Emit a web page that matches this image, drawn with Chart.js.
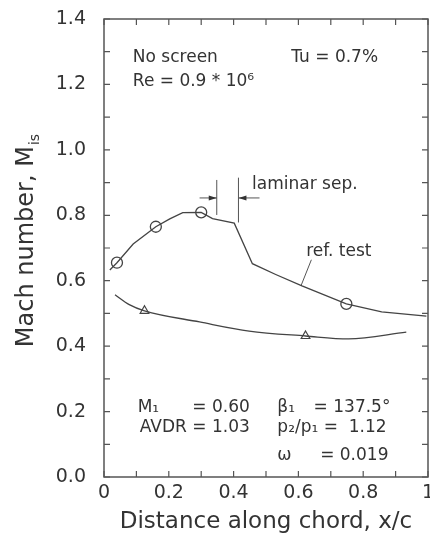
<!DOCTYPE html>
<html>
<head>
<meta charset="utf-8">
<script src="https://cdn.jsdelivr.net/npm/chart.js@4.4.1/dist/chart.umd.min.js"></script>
<style>
  html, body { margin: 0; padding: 0; background: #fff; }
  #wrap { width: 430px; height: 537px; }
</style>
</head>
<body>
<div id="wrap"><canvas id="mach-chart"></canvas></div>
<script>
// ref. test curve (suction + pressure side)
const refX = [0.018, 0.04, 0.09, 0.16, 0.203, 0.243, 0.30, 0.335, 0.402, 0.458, 0.53, 0.611, 0.748, 0.857, 0.995];
const refY = [0.633, 0.655, 0.712, 0.765, 0.789, 0.808, 0.809, 0.79, 0.776, 0.652, 0.619, 0.584, 0.529, 0.505, 0.492];
const lowX = [0.034, 0.078, 0.125, 0.295, 0.448, 0.622, 0.755, 0.933];
const lowY = [0.557, 0.527, 0.508, 0.474, 0.446, 0.431, 0.422, 0.443];

// measured points (markers)
const circX = [0.04, 0.16, 0.30, 0.748];
const circY = [0.655, 0.765, 0.809, 0.529];
const triX = [0.125, 0.622];
const triY = [0.508, 0.431];

const xTicks = [0, 0.2, 0.4, 0.6, 0.8, 1];
const yTicks = [0, 0.2, 0.4, 0.6, 0.8, 1.0, 1.2, 1.4];

const FONT = "'DejaVu Sans', sans-serif";
const INK = '#333';

function pts(xs, ys) {
    return xs.map((x, i) => ({ x: x, y: ys[i] }));
}

function isMajor(v, list) {
    return list.some(t => Math.abs(t - v) < 1e-6);
}

// box + inward ticks on all four sides
const framePlugin = {
    id: 'frame',
    afterDraw(chart) {
        const { ctx, chartArea: a, scales } = chart;
        ctx.save();
        ctx.strokeStyle = '#555';
        ctx.lineWidth = 1.5;
        ctx.strokeRect(a.left, a.top, a.right - a.left, a.bottom - a.top);
        ctx.lineWidth = 1.2;
        ctx.beginPath();
        scales.x.ticks.forEach(t => {
            const px = scales.x.getPixelForValue(t.value);
            ctx.moveTo(px, a.bottom); ctx.lineTo(px, a.bottom - 6);
            ctx.moveTo(px, a.top); ctx.lineTo(px, a.top + 6);
        });
        scales.y.ticks.forEach(t => {
            const py = scales.y.getPixelForValue(t.value);
            ctx.moveTo(a.left, py); ctx.lineTo(a.left + 6, py);
            ctx.moveTo(a.right, py); ctx.lineTo(a.right - 6, py);
        });
        ctx.stroke();
        ctx.restore();
    }
};

// texts, arrows and y title with subscript
const notesPlugin = {
    id: 'notes',
    afterDraw(chart) {
        const { ctx, scales } = chart;
        const X = v => scales.x.getPixelForValue(v);
        const Y = v => scales.y.getPixelForValue(v);

        ctx.save();
        ctx.fillStyle = INK;
        ctx.textBaseline = 'middle';
        ctx.font = '17px ' + FONT;

        const txt = (s, x, y, align) => {
            ctx.textAlign = align || 'left';
            ctx.fillText(s, X(x), Y(y));
        };
        txt('No screen', 0.089, 1.281);
        txt('Tu = 0.7%', 0.578, 1.281);
        txt('Re = 0.9 * 10\u2076', 0.089, 1.208);
        txt('laminar sep.', 0.457, 0.893);
        txt('ref. test', 0.624, 0.688);

        txt('M\u2081', 0.104, 0.211);
        txt('= 0.60', 0.45, 0.211, 'right');
        txt('AVDR = 1.03', 0.45, 0.15, 'right');
        txt('\u03b2\u2081', 0.535, 0.211);
        txt('= 137.5\u00b0', 0.884, 0.211, 'right');
        txt('p\u2082/p\u2081 =', 0.535, 0.15);
        txt('1.12', 0.872, 0.15, 'right');
        txt('\u03c9', 0.535, 0.067);
        txt('= 0.019', 0.878, 0.067, 'right');

        // separation markers
        ctx.strokeStyle = '#555';
        ctx.lineWidth = 1;
        ctx.beginPath();
        ctx.moveTo(X(0.348), Y(0.908)); ctx.lineTo(X(0.348), Y(0.801));
        ctx.moveTo(X(0.415), Y(0.915)); ctx.lineTo(X(0.415), Y(0.778));
        ctx.moveTo(X(0.295), Y(0.853)); ctx.lineTo(X(0.348), Y(0.853));
        ctx.moveTo(X(0.48), Y(0.853)); ctx.lineTo(X(0.415), Y(0.853));
        // leader to ref. test
        ctx.moveTo(X(0.64), Y(0.664)); ctx.lineTo(X(0.609), Y(0.587));
        ctx.stroke();

        ctx.fillStyle = '#333';
        const head = (tipX, dir) => {
            const tx = X(tipX), ty = Y(0.853);
            ctx.beginPath();
            ctx.moveTo(tx, ty);
            ctx.lineTo(tx - dir * 8, ty - 2.5);
            ctx.lineTo(tx - dir * 8, ty + 2.5);
            ctx.closePath();
            ctx.fill();
        };
        head(0.348, 1);
        head(0.415, -1);

        // y axis title
        ctx.fillStyle = INK;
        ctx.translate(33, 241);
        ctx.rotate(-Math.PI / 2);
        ctx.textBaseline = 'alphabetic';
        ctx.textAlign = 'left';
        const main = 'Mach number, M';
        ctx.font = '24px ' + FONT;
        const w1 = ctx.measureText(main).width;
        ctx.font = '14px ' + FONT;
        const w2 = ctx.measureText('is').width;
        const x0 = -(w1 + w2) / 2;
        ctx.font = '24px ' + FONT;
        ctx.fillText(main, x0, 0);
        ctx.font = '14px ' + FONT;
        ctx.fillText('is', x0 + w1 + 1, 6);
        ctx.restore();
    }
};

function createChart() {
    const ctx = document.getElementById('mach-chart').getContext('2d');

    new Chart(ctx, {
        type: 'scatter',
        data: {
            datasets: [
                {
                    data: pts(refX, refY),
                    showLine: true,
                    borderColor: '#444',
                    borderWidth: 1.3,
                    pointRadius: 0,
                    tension: 0,
                },
                {
                    data: pts(lowX, lowY),
                    showLine: true,
                    borderColor: '#444',
                    borderWidth: 1.3,
                    pointRadius: 0,
                    cubicInterpolationMode: 'monotone',
                },
                {
                    data: pts(circX, circY),
                    pointStyle: 'circle',
                    pointRadius: 5.5,
                    borderColor: '#444',
                    borderWidth: 1.3,
                    backgroundColor: '#fff',
                },
                {
                    data: pts(triX, triY),
                    pointStyle: 'triangle',
                    pointRadius: 5,
                    borderColor: '#444',
                    borderWidth: 1.2,
                    backgroundColor: '#fff',
                },
            ],
        },
        options: {
            responsive: true,
            maintainAspectRatio: false,
            animation: false,
            events: [],
            layout: { autoPadding: false, padding: { top: 19, right: 2, bottom: 0, left: 0 } },
            plugins: {
                legend: { display: false },
                tooltip: { enabled: false },
            },
            scales: {
                x: {
                    type: 'linear',
                    min: 0,
                    max: 1,
                    grid: { display: false, drawTicks: false },
                    border: { display: false },
                    ticks: {
                        stepSize: 0.1,
                        padding: 5,
                        color: INK,
                        font: { family: FONT, size: 19 },
                        maxRotation: 0,
                        autoSkip: false,
                        callback: v => isMajor(v, xTicks) ? (Math.abs(v - Math.round(v)) < 1e-6 ? String(Math.round(v)) : v.toFixed(1)) : '',
                    },
                    title: {
                        display: true,
                        text: 'Distance along chord, x/c',
                        color: INK,
                        font: { family: FONT, size: 23 },
                        padding: { top: 0, bottom: 1 },
                    },
                    afterFit(s) {
                        s.height = 60;
                        s.paddingLeft = 0;
                        s.paddingRight = 0;
                    },
                },
                y: {
                    min: 0,
                    max: 1.4,
                    grid: { display: false, drawTicks: false },
                    border: { display: false },
                    ticks: {
                        stepSize: 0.1,
                        padding: 18,
                        color: INK,
                        font: { family: FONT, size: 19 },
                        autoSkip: false,
                        callback: v => isMajor(v, yTicks) ? v.toFixed(1) : '',
                    },
                    afterFit(s) {
                        s.width = 104;
                        s.paddingTop = 0;
                        s.paddingBottom = 0;
                    },
                },
            },
        },
        plugins: [framePlugin, notesPlugin],
    });
}

createChart();
</script>
</body>
</html>
